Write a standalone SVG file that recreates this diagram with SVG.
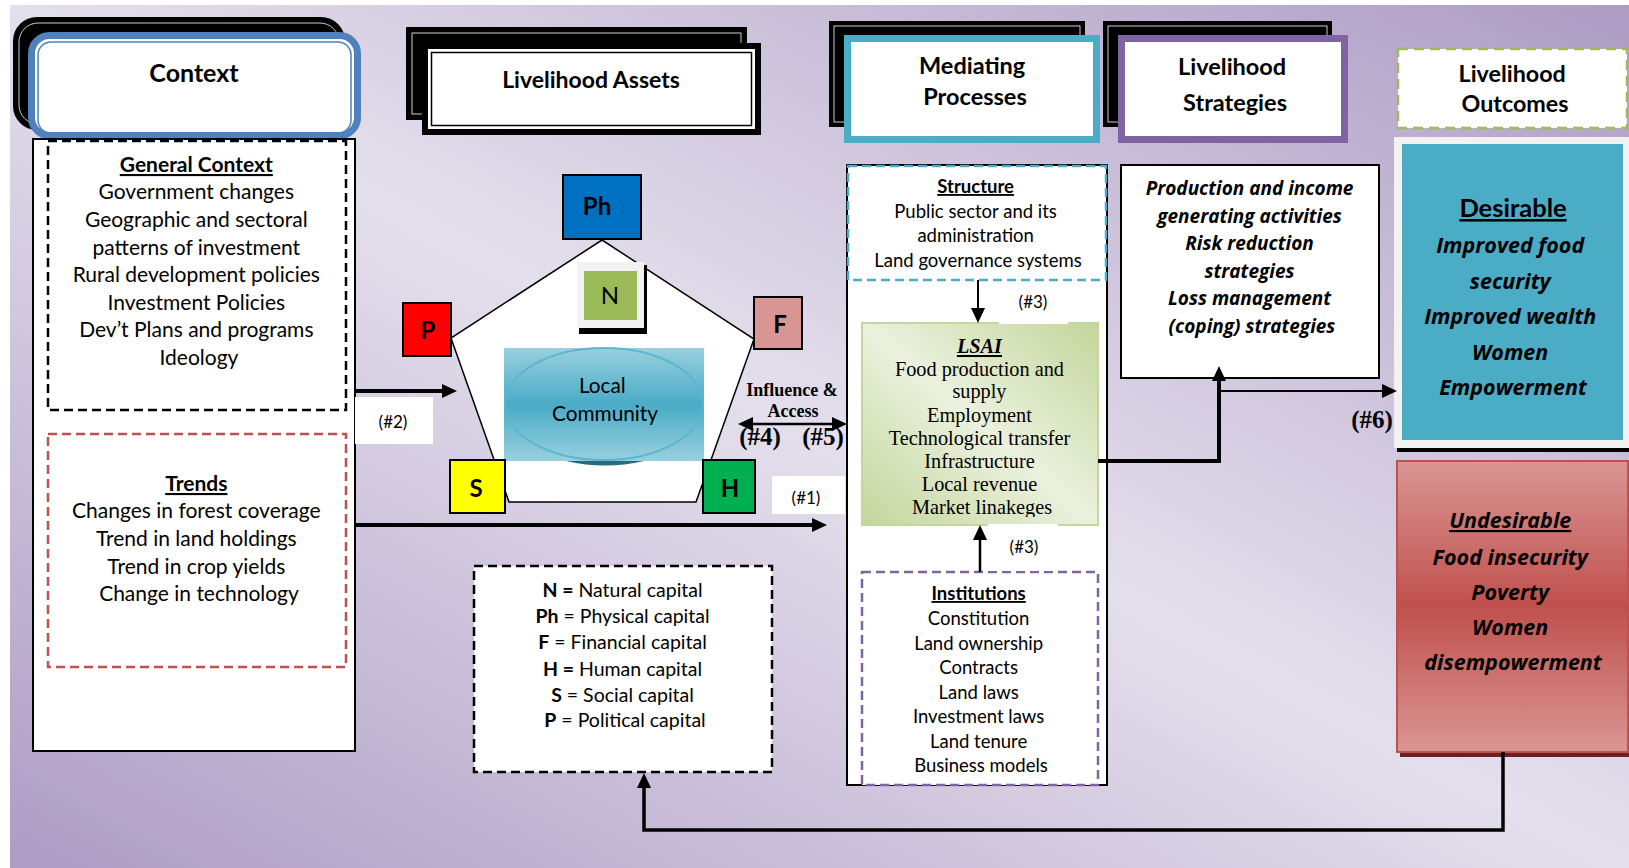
<svg xmlns="http://www.w3.org/2000/svg" width="1629" height="868" viewBox="0 0 1629 868">
<defs>
<linearGradient id="bg" x1="0" y1="1" x2="1" y2="0">
<stop offset="0" stop-color="#ad9cc4"/>
<stop offset="0.5" stop-color="#e4dfec"/>
<stop offset="1" stop-color="#ad9cc4"/>
</linearGradient>
<linearGradient id="lc" x1="0" y1="0" x2="0" y2="1">
<stop offset="0" stop-color="#98d0df"/>
<stop offset="0.5" stop-color="#4aabc6"/>
<stop offset="1" stop-color="#98d0df"/>
</linearGradient>
<linearGradient id="lsai" x1="0" y1="1" x2="1" y2="0">
<stop offset="0" stop-color="#c3d69b"/>
<stop offset="0.5" stop-color="#ebf1de"/>
<stop offset="1" stop-color="#c3d69b"/>
</linearGradient>
<linearGradient id="und" x1="0" y1="0" x2="0" y2="1">
<stop offset="0" stop-color="#da9694"/>
<stop offset="0.5" stop-color="#c0504d"/>
<stop offset="1" stop-color="#da9694"/>
</linearGradient>
<marker id="ah" markerUnits="userSpaceOnUse" markerWidth="15" markerHeight="14" viewBox="0 0 15 14" refX="1" refY="7" orient="auto-start-reverse">
<path d="M0,0 L15,7 L0,14 z" fill="#000"/>
</marker>
<clipPath id="lsaiClip"><rect x="862" y="323" width="236" height="194"/></clipPath>
<clipPath id="l1Clip"><rect x="772" y="476" width="73" height="30"/></clipPath>
</defs>
<style>
text{text-anchor:middle;fill:#000}
.sans{font-family:Lato,"Open Sans","Liberation Sans",sans-serif}
.osi{font-family:"Open Sans",Lato,"Liberation Sans",sans-serif;font-weight:bold;font-style:italic}
.serif{font-family:"Liberation Serif","Times New Roman",serif}
.b{font-weight:bold}
.i{font-style:italic}
.u{text-decoration:underline}
.conn{fill:none;stroke:#000}
.box{fill:#fff;stroke:#000;stroke-width:2}
.cap{stroke:#000;stroke-width:2}
.body{font-size:21px}
.mid{font-size:18.5px}
</style>

<rect id="background" x="10" y="5" width="1619" height="863" fill="url(#bg)"/>

<g id="context-header">
<rect x="13" y="17" width="332" height="113" rx="24" fill="#000"/>
<rect x="19" y="23" width="320" height="101" rx="19" fill="none" stroke="#fff" stroke-width="0.8"/>
<rect x="31.5" y="35.5" width="326" height="100" rx="18" fill="#fff" stroke="#4f81bd" stroke-width="7"/>
<rect x="38" y="42" width="313" height="91" rx="13" fill="none" stroke="#4f81bd" stroke-width="1.5"/>
<text class="sans b" x="194" y="82" font-size="25">Context</text>
</g>

<g id="context-column">
<rect class="box" x="33" y="139" width="322" height="612"/>
</g>

<g id="general-context">
<rect x="48" y="141" width="298" height="269" fill="#fff" stroke="#000" stroke-width="2.5" stroke-dasharray="9 5"/>
<text class="sans body" x="199">
<tspan class="b u" x="199" y="172">General Context</tspan>
<tspan x="199" y="199">Government changes</tspan>
<tspan x="199" y="227">Geographic and sectoral</tspan>
<tspan x="199" y="255">patterns of investment</tspan>
<tspan x="199" y="282">Rural development policies</tspan>
<tspan x="199" y="310">Investment Policies</tspan>
<tspan x="199" y="337">Dev’t Plans and programs</tspan>
<tspan x="199" y="365">Ideology</tspan>
</text>
</g>

<g id="trends">
<rect x="48" y="434" width="298" height="233" fill="#fff" stroke="#c0504d" stroke-width="2.5" stroke-dasharray="9 5"/>
<text class="sans body" x="199">
<tspan class="b u" x="199" y="491">Trends</tspan>
<tspan x="199" y="518">Changes in forest coverage</tspan>
<tspan x="199" y="546">Trend in land holdings</tspan>
<tspan x="199" y="574">Trend in crop yields</tspan>
<tspan x="199" y="601">Change in technology</tspan>
</text>
</g>

<g id="assets-header">
<rect x="406" y="27" width="341" height="93" fill="#000"/>
<rect x="412" y="33" width="329" height="81" fill="none" stroke="#fff" stroke-width="0.8"/>
<rect x="422" y="43" width="339" height="92" fill="#000"/>
<rect x="428" y="49" width="327" height="80" fill="#fff"/>
<rect x="431.5" y="52.5" width="320" height="73" fill="#fff" stroke="#000" stroke-width="1.5"/>
<text class="sans b" x="591" y="88" font-size="23">Livelihood Assets</text>
</g>

<g id="asset-pentagon">
<polygon points="602,240 754,339 696,502 509,502 451,338" fill="#fff" stroke="#000" stroke-width="1.5"/>
</g>

<g id="local-community">
<path d="M566,461 Q605,470 644,461 Z" fill="#2a6a7e"/>
<rect x="504" y="348" width="200" height="113" fill="url(#lc)"/>
<ellipse cx="604" cy="404" rx="99" ry="56" fill="none" stroke="#5bb6cf" stroke-width="2"/>
<text class="sans" x="605" font-size="20.8" fill="#1a1a1a">
<tspan x="605" y="393">Local</tspan>
<tspan x="605" y="421">Community</tspan>
</text>
</g>

<g id="asset-Ph">
<rect class="cap" x="563" y="175" width="78" height="64" fill="#0070c0"/>
<text class="sans b" x="597" y="215" font-size="24">Ph</text>
</g>

<g id="asset-N">
<rect x="579" y="265" width="68" height="69" fill="#000"/>
<rect x="577" y="262" width="67" height="66" fill="#f2f2f2"/>
<rect x="584" y="271" width="53" height="49" fill="#9bbb59"/>
<text class="sans" x="610" y="304" font-size="24">N</text>
</g>

<g id="asset-P">
<rect class="cap" x="403" y="303" width="48" height="53" fill="#ff0000"/>
<text class="sans b" x="428" y="339" font-size="24">P</text>
</g>

<g id="asset-F">
<rect class="cap" x="754" y="297" width="48" height="52" fill="#d99594"/>
<text class="sans b" x="780" y="333" font-size="24">F</text>
</g>

<g id="asset-S">
<rect class="cap" x="450" y="460" width="55" height="53" fill="#ffff00"/>
<text class="sans b" x="476" y="497" font-size="24">S</text>
</g>

<g id="asset-H">
<rect class="cap" x="703" y="460" width="52" height="53" fill="#00b050"/>
<text class="sans b" x="730" y="497" font-size="24">H</text>
</g>

<g id="legend">
<rect x="474" y="566" width="298" height="206" fill="#fff" stroke="#000" stroke-width="2.5" stroke-dasharray="9 5"/>
<text class="sans" x="625" font-size="19.5">
<tspan x="625" y="597"><tspan class="b">N =</tspan> Natural capital</tspan>
<tspan x="625" y="623"><tspan class="b">Ph</tspan> = Physical capital</tspan>
<tspan x="625" y="649"><tspan class="b">F</tspan> = Financial capital</tspan>
<tspan x="625" y="676"><tspan class="b">H =</tspan> Human capital</tspan>
<tspan x="625" y="702"><tspan class="b">S</tspan> = Social capital</tspan>
<tspan x="625" y="727"><tspan class="b">P</tspan> = Political capital</tspan>
</text>
</g>

<g id="mediating-header">
<rect x="829" y="21" width="256" height="106" fill="#000"/>
<rect x="834" y="26" width="246" height="96" fill="none" stroke="#fff" stroke-width="0.8"/>
<rect x="847.5" y="38.5" width="249" height="101" fill="#fff" stroke="#4bacc6" stroke-width="7"/>
<text class="sans b" x="975" font-size="23.5">
<tspan x="975" y="74">Mediating</tspan>
<tspan x="975" y="105">Processes</tspan>
</text>
</g>

<g id="strategies-header">
<rect x="1103" y="21" width="229" height="106" fill="#000"/>
<rect x="1108" y="26" width="219" height="96" fill="none" stroke="#fff" stroke-width="0.8"/>
<rect x="1121.5" y="38.5" width="223" height="101" fill="#fff" stroke="#8064a2" stroke-width="7"/>
<text class="sans b" x="1235" font-size="23.5">
<tspan x="1235" y="75">Livelihood</tspan>
<tspan x="1235" y="111">Strategies</tspan>
</text>
</g>

<g id="outcomes-header">
<rect x="1398" y="49" width="229" height="79" fill="#fff" stroke="#9bbb59" stroke-width="2.5" stroke-dasharray="10 6"/>
<text class="sans b" x="1515" font-size="23.3">
<tspan x="1515" y="82">Livelihood</tspan>
<tspan x="1515" y="112">Outcomes</tspan>
</text>
</g>

<g id="mediating-column">
<rect class="box" x="847" y="165" width="260" height="620"/>
</g>

<g id="structure">
<rect x="848" y="166" width="258" height="114" fill="#fff" stroke="#4bacc6" stroke-width="2.5" stroke-dasharray="9 5"/>
<text class="sans mid" x="978">
<tspan class="b u" x="978" y="193">Structure</tspan>
<tspan x="978" y="218">Public sector and its</tspan>
<tspan x="978" y="242">administration</tspan>
<tspan x="978" y="267">Land governance systems</tspan>
</text>
</g>

<g id="lsai">
<rect x="862" y="323" width="236" height="202" fill="url(#lsai)" stroke="#c3d69b" stroke-width="2"/>
<g clip-path="url(#lsaiClip)">
<text class="serif" x="982" font-size="20.3">
<tspan class="b i u" x="982" y="353">LSAI</tspan>
<tspan x="982" y="376">Food production and</tspan>
<tspan x="982" y="398">supply</tspan>
<tspan x="982" y="422">Employment</tspan>
<tspan x="982" y="445">Technological transfer</tspan>
<tspan x="982" y="468">Infrastructure</tspan>
<tspan x="982" y="491">Local revenue</tspan>
<tspan x="982" y="514">Market linakeges</tspan>
</text>
</g>
</g>

<g id="institutions">
<rect x="862" y="572" width="236" height="213" fill="#fff" stroke="#8064a2" stroke-width="2.5" stroke-dasharray="9 5"/>
<text class="sans mid" x="981">
<tspan class="b u" x="981" y="600">Institutions</tspan>
<tspan x="981" y="625">Constitution</tspan>
<tspan x="981" y="650">Land ownership</tspan>
<tspan x="981" y="674">Contracts</tspan>
<tspan x="981" y="699">Land laws</tspan>
<tspan x="981" y="723">Investment laws</tspan>
<tspan x="981" y="748">Land tenure</tspan>
<tspan x="981" y="772">Business models</tspan>
</text>
</g>

<g id="strategies">
<rect class="box" x="1121" y="165" width="258" height="213"/>
<text class="osi" x="1252" font-size="19">
<tspan x="1252" y="195">Production and income</tspan>
<tspan x="1252" y="223">generating activities</tspan>
<tspan x="1252" y="250">Risk reduction</tspan>
<tspan x="1252" y="278">strategies</tspan>
<tspan x="1252" y="305">Loss management</tspan>
<tspan x="1252" y="333">(coping) strategies</tspan>
</text>
</g>

<g id="desirable">
<rect x="1397" y="140" width="232" height="312" fill="#000"/>
<rect x="1394" y="137" width="235" height="311" fill="#f2f2f2"/>
<rect x="1402" y="144" width="221" height="296" fill="#4bacc6"/>
<text class="sans b u" x="1513" y="217" font-size="25.5">Desirable</text>
<text class="osi" x="1513" font-size="21.5">
<tspan x="1513" y="253">Improved food</tspan>
<tspan x="1513" y="289">security</tspan>
<tspan x="1513" y="324">Improved wealth</tspan>
<tspan x="1513" y="360">Women</tspan>
<tspan x="1513" y="395">Empowerment</tspan>
</text>
</g>

<g id="undesirable">
<rect x="1400" y="464" width="229" height="293" fill="#632523"/>
<rect x="1397" y="461" width="231" height="291" fill="url(#und)" stroke="#c0504d" stroke-width="2"/>
<text class="osi" x="1513" font-size="21.5">
<tspan class="u" x="1513" y="528">Undesirable</tspan>
<tspan x="1513" y="565">Food insecurity</tspan>
<tspan x="1513" y="600">Poverty</tspan>
<tspan x="1513" y="635">Women</tspan>
<tspan x="1513" y="670">disempowerment</tspan>
</text>
</g>

<g id="connectors">
<line class="conn" x1="355" y1="391" x2="443" y2="391" stroke-width="4" marker-end="url(#ah)"/>
<line class="conn" x1="355" y1="525" x2="813" y2="525" stroke-width="4" marker-end="url(#ah)"/>
<line class="conn" x1="752" y1="424" x2="833" y2="424" stroke-width="2.5" marker-start="url(#ah)" marker-end="url(#ah)"/>
<line class="conn" x1="978" y1="280" x2="978" y2="309" stroke-width="2" marker-end="url(#ah)"/>
<line class="conn" x1="980" y1="572" x2="980" y2="539" stroke-width="2.5" marker-end="url(#ah)"/>
<polyline class="conn" points="1098,461 1219,461 1219,380" stroke-width="4" marker-end="url(#ah)"/>
<line class="conn" x1="1219" y1="391" x2="1383" y2="391" stroke-width="2" marker-end="url(#ah)"/>
<polyline class="conn" points="1503,752 1503,830 644,830 644,787" stroke-width="3.5" marker-end="url(#ah)"/>
</g>

<g id="labels">
<rect x="355" y="397" width="78" height="47" fill="#fff"/>
<text class="sans" x="393" y="428" font-size="17">(#2)</text>
<rect x="772" y="476" width="73" height="38" fill="#fff"/>
<text class="sans" x="806" y="504" font-size="17" clip-path="url(#l1Clip)">(#1)</text>
<text class="serif b" x="792" y="396" font-size="18">Influence &amp;</text>
<text class="serif b" x="793" y="417" font-size="18">Access</text>
<text class="serif b" x="760" y="445" font-size="25">(#4)</text>
<text class="serif b" x="823" y="445" font-size="25">(#5)</text>
<rect x="999" y="285" width="69" height="39" fill="#fff"/>
<text class="sans" x="1033" y="308" font-size="17">(#3)</text>
<rect x="988" y="524" width="70" height="47" fill="#fff"/>
<text class="sans" x="1024" y="553" font-size="17">(#3)</text>
<text class="serif b" x="1372" y="428" font-size="25">(#6)</text>
</g>
</svg>
